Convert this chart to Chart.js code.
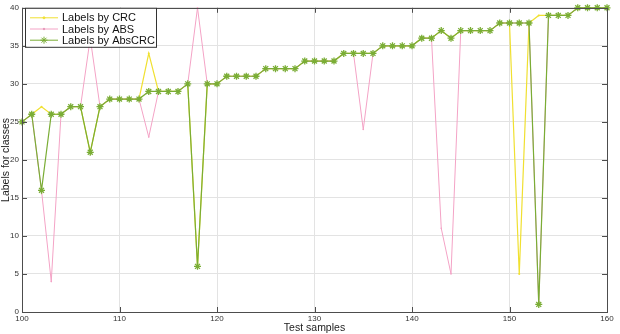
<!DOCTYPE html>
<html>
<head>
<meta charset="utf-8">
<script src="https://cdn.jsdelivr.net/npm/chart.js@4/dist/chart.umd.min.js"></script>
<style>
html,body{margin:0;padding:0;background:#fff;}
#wrap{width:620px;height:334px;position:relative;}
</style>
</head>
<body>
<div id="wrap"><canvas id="c" width="620" height="334"></canvas></div>
<script>
const samples = [100,101,102,103,104,105,106,107,108,109,110,111,112,113,114,115,116,117,118,119,120,
  121,122,123,124,125,126,127,128,129,130,131,132,133,134,135,136,137,138,139,140,
  141,142,143,144,145,146,147,148,149,150,151,152,153,154,155,156,157,158,159,160];
const crcLabels = [25,26,27,26,26,27,27,21,27,28,28,28,28,34,29,29,29,30,6,30,30,
  31,31,31,31,32,32,32,32,33,33,33,33,34,34,34,34,35,35,35,35,
  36,36,37,36,37,37,37,37,38,38,5,38,39,39,39,39,40,40,40,40];
const absLabels = [25,26,16,4,26,27,27,36,27,28,28,28,28,23,29,29,29,30,40,30,30,
  31,31,31,31,32,32,32,32,33,33,33,33,34,34,24,34,35,35,35,35,
  36,36,11,5,37,37,37,37,38,38,38,38,1,39,39,39,40,40,40,40];
const absCrcLabels = [25,26,16,26,26,27,27,21,27,28,28,28,28,29,29,29,29,30,6,30,30,
  31,31,31,31,32,32,32,32,33,33,33,33,34,34,34,34,35,35,35,35,
  36,36,37,36,37,37,37,37,38,38,38,38,1,39,39,39,40,40,40,40];
const seriesNames = ['Labels by CRC','Labels by ABS','Labels by AbsCRC'];
const xTicks = [100,110,120,130,140,150,160];
const yTicks = [0,5,10,15,20,25,30,35,40];

const toPts = arr => samples.map((s,i)=>({x:s,y:arr[i]}));
const FONT = '"Liberation Sans", Arial, Helvetica, sans-serif';
const AXIS = '#4d4d4d';

const inwardTicks = {
  id:'inwardTicks',
  afterDatasetsDraw(chart){
    const {ctx, chartArea:a, scales:{x,y}} = chart;
    ctx.save();
    ctx.strokeStyle = AXIS; ctx.lineWidth = 1;
    ctx.beginPath();
    xTicks.forEach(v=>{
      const px = Math.round(x.getPixelForValue(v))+0.5;
      ctx.moveTo(px,a.bottom); ctx.lineTo(px,a.bottom-5);
      ctx.moveTo(px,a.top); ctx.lineTo(px,a.top+5);
    });
    yTicks.forEach(v=>{
      const py = Math.round(y.getPixelForValue(v))+0.5;
      ctx.moveTo(a.left,py); ctx.lineTo(a.left+5,py);
      ctx.moveTo(a.right,py); ctx.lineTo(a.right-5,py);
    });
    ctx.stroke();
    ctx.strokeRect(Math.round(a.left)+0.5, Math.round(a.top)+0.5, Math.round(a.right-a.left), Math.round(a.bottom-a.top));
    ctx.restore();
  }
};

const boxLegend = {
  id:'boxLegend',
  afterDraw(chart){
    const {ctx, chartArea:a} = chart;
    const ds = chart.data.datasets;
    const bx = a.left+3, by = a.top, bw = 131, bh = 39;
    ctx.save();
    ctx.fillStyle = '#fff';
    ctx.fillRect(bx,by,bw,bh);
    ctx.strokeStyle = '#333'; ctx.lineWidth = 1;
    ctx.strokeRect(bx+0.5,by+0.5,bw,bh);
    ctx.font = '11px ' + FONT;
    ctx.textBaseline = 'middle';
    [0,1,2].forEach(i=>{
      const d = ds[i];
      const yy = by + 10 + i*11.2;
      ctx.strokeStyle = d.borderColor; ctx.lineWidth = 1;
      ctx.beginPath(); ctx.moveTo(bx+5,yy); ctx.lineTo(bx+33,yy); ctx.stroke();
      Chart.helpers.drawPoint(ctx,{pointStyle:d.pointStyle, radius:d.pointRadius, borderWidth:d.pointBorderWidth||1, rotation:0}, bx+19, yy);
      if (d.pointStyle==='circle'){ ctx.fillStyle=d.borderColor; ctx.beginPath(); ctx.arc(bx+19,yy,d.pointRadius,0,Math.PI*2); ctx.fill(); }
      ctx.fillStyle = '#111';
      ctx.fillText(seriesNames[i], bx+37, yy+0.5);
    });
    ctx.restore();
  }
};

new Chart(document.getElementById('c'), {
  type:'line',
  data:{
    datasets:[
      {label:seriesNames[0], data:toPts(crcLabels), borderColor:'#f0e030', backgroundColor:'#f0e030',
       borderWidth:1.2, pointStyle:'circle', pointRadius:1, pointBorderWidth:0, order:3, clip:false},
      {label:seriesNames[1], data:toPts(absLabels), borderColor:'#f4a3c6', backgroundColor:'#f4a3c6',
       borderWidth:1, pointStyle:'circle', pointRadius:0.8, pointBorderWidth:0, order:2, clip:false},
      {label:seriesNames[2], data:toPts(absCrcLabels), borderColor:'#7aad35', backgroundColor:'#7aad35',
       borderWidth:1.2, pointStyle:'star', pointRadius:3.5, pointBorderWidth:1.3, order:1, clip:false}
    ]
  },
  options:{
    responsive:false, animation:false,
    layout:{padding:{top:5,right:13,left:0,bottom:0}},
    plugins:{legend:{display:false}, tooltip:{enabled:false}},
    elements:{line:{tension:0}},
    scales:{
      x:{type:'linear', min:100, max:160,
        afterFit(s){s.height=22;},
        afterBuildTicks(s){s.ticks = xTicks.map(v=>({value:v}));},
        grid:{color:'#e3e3e3', drawTicks:false},
        border:{display:false},
        ticks:{padding:2, color:'#333', font:{family:FONT,size:8}, maxRotation:0},
        title:{display:true, text:'Test samples', color:'#222', font:{family:FONT,size:10.5}, padding:{top:0,bottom:0}}
      },
      y:{type:'linear', min:0, max:40,
        afterFit(s){s.width=22;},
        afterBuildTicks(s){s.ticks = yTicks.map(v=>({value:v}));},
        grid:{color:'#e3e3e3', drawTicks:false},
        border:{display:false},
        ticks:{padding:3, color:'#333', font:{family:FONT,size:8}},
        title:{display:true, text:'Labels for classes', color:'#222', font:{family:FONT,size:10.5}, padding:{top:0,bottom:0}}
      }
    }
  },
  plugins:[inwardTicks, boxLegend]
});
</script>
</body>
</html>
